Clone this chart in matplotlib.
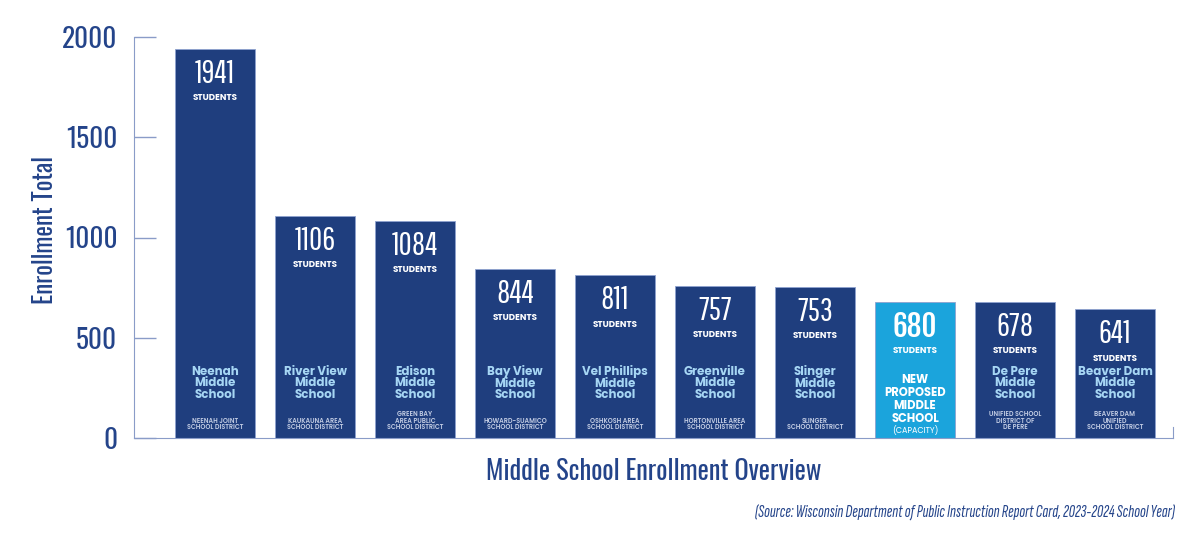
import matplotlib
matplotlib.use("Agg")
import matplotlib.pyplot as plt
from matplotlib import font_manager as fm

# --- data ---
schools = ["Neenah\nMiddle\nSchool", "River View\nMiddle\nSchool", "Edison\nMiddle\nSchool",
           "Bay View\nMiddle\nSchool", "Vel Phillips\nMiddle\nSchool", "Greenville\nMiddle\nSchool",
           "Slinger\nMiddle\nSchool", "NEW\nPROPOSED\nMIDDLE\nSCHOOL", "De Pere\nMiddle\nSchool",
           "Beaver Dam\nMiddle\nSchool"]
districts = ["NEENAH JOINT\nSCHOOL DISTRICT", "KAUKAUNA AREA\nSCHOOL DISTRICT",
             "GREEN BAY\nAREA PUBLIC\nSCHOOL DISTRICT", "HOWARD-SUAMICO\nSCHOOL DISTRICT",
             "OSHKOSH AREA\nSCHOOL DISTRICT", "HORTONVILLE AREA\nSCHOOL DISTRICT",
             "SLINGER\nSCHOOL DISTRICT", "(CAPACITY)", "UNIFIED SCHOOL\nDISTRICT OF\nDE PERE",
             "BEAVER DAM\nUNIFIED\nSCHOOL DISTRICT"]
enrollment = [1941, 1106, 1084, 844, 811, 757, 753, 680, 678, 641]
highlight = 7  # the proposed school
yticks = [0, 500, 1000, 1500, 2000]

NAVY = "#1f3e7e"
CYAN = "#1ba4dc"
AXIS = "#8a9cc8"
TEXT = "#24448a"
NAME = "#a6d6f4"
DIST = "#c3cde4"


def first_bold(cands):
    # first family that really ships a bold face (some are only a thin variable file)
    for c in cands:
        w = [f.weight for f in fm.fontManager.ttflist if f.name == c]
        w = [int(x) if str(x).isdigit() else 700 for x in w]
        if w and max(w) >= 700:
            return c
    return "DejaVu Sans"


BODY = [first_bold(["Poppins", "Lexend", "Red Hat Display", "Work Sans", "Nunito Sans",
                    "Raleway", "Lato", "Open Sans", "Montserrat Alternates"]), "DejaVu Sans"]
COND = ["Oswald", "Roboto Condensed", "DejaVu Sans"]
NUM = ["Pathway Gothic One", "Oswald", "DejaVu Sans"]
NUM_BOLD = ["Fjalla One", "Oswald", "DejaVu Sans"]
COND_IT = ["Sofia Sans Extra Condensed", "Barlow Condensed", "DejaVu Sans"]

fig = plt.figure(figsize=(12, 5.5), dpi=100)
ax = fig.add_axes([134 / 1200, 1 - 438 / 550, 1039 / 1200, 401 / 550])

x = list(range(len(enrollment)))
colors = [CYAN if i == highlight else NAVY for i in x]
ax.bar(x, enrollment, width=0.8, color=colors, edgecolor="#8ea2cf", linewidth=0.6, zorder=2)

ax.set_xlim(-0.81, 9.58)
ax.set_ylim(0, 2000)
ax.set_xticks([])
ax.set_yticks(yticks)
ax.set_yticklabels([str(t) for t in yticks], family=COND, fontsize=19.5, color=TEXT)
ax.tick_params(axis="y", direction="in", length=16, width=1, color=AXIS, pad=12)

ax.spines["top"].set_visible(False)
for s in ["left", "bottom", "right"]:
    ax.spines[s].set_color(AXIS)
ax.spines["right"].set_bounds(0, 55)

for i, v in enumerate(enrollment):
    big = i == highlight
    ax.annotate(str(v), (i, v), xytext=(0, -18), textcoords="offset points",
                ha="center", va="center", color="white", fontsize=21 if big else 23,
                family=NUM_BOLD if big else NUM)
    ax.annotate("STUDENTS", (i, v), xytext=(0, -35), textcoords="offset points",
                ha="center", va="center", color="white", fontsize=6.3,
                family=BODY, fontweight="bold")
    if big:
        ax.text(i, 193, schools[i], ha="center", va="center", color="white",
                fontsize=8.3, family=BODY, fontweight="bold", linespacing=1.12)
        ax.text(i, 38, districts[i], ha="center", va="center", color="white",
                fontsize=5.8, family=BODY, fontweight="normal")
    else:
        ax.text(i, 273, schools[i], ha="center", va="center", color=NAME,
                fontsize=8.5, family=BODY, fontweight="bold", linespacing=0.95)
        ax.text(i, 33, districts[i], ha="center", va="bottom", color=DIST,
                fontsize=4.6, family=BODY, fontweight="semibold", linespacing=0.95)

fig.text(45 / 1200, 1 - 230 / 550, "Enrollment Total", rotation=90, ha="center", va="center",
         family=COND, fontsize=18, color=TEXT)
fig.text(653.5 / 1200, 1 - 472 / 550, "Middle School Enrollment Overview", ha="center", va="center",
         family=COND, fontsize=19, color=TEXT)
fig.text(1175 / 1200, 1 - 513 / 550,
         "(Source: Wisconsin Department of Public Instruction Report Card, 2023-2024 School Year)",
         ha="right", va="center", family=COND_IT, fontstyle="italic",
         fontsize=12.6, color=TEXT)

fig.savefig("out.png", dpi=100)
